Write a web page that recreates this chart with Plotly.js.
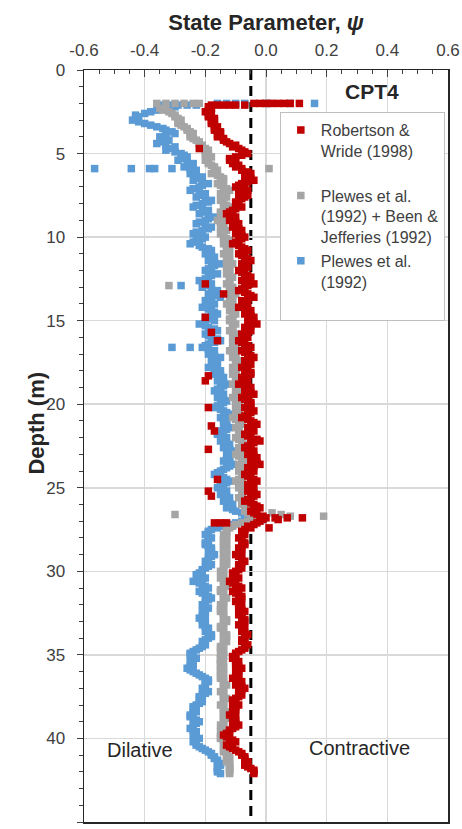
<!DOCTYPE html>
<html>
<head>
<meta charset="utf-8">
<script src="https://cdn.plot.ly/plotly-3.0.1.min.js"></script>
<style>html,body{margin:0;padding:0;background:#fff;}#chart{width:462px;height:829px;}</style>
</head>
<body>
<div id="chart"></div>
<script>
// Depth (m) of the readings, first set
const depthA = [
2.2,2.4,2.6,2.8,3.0,3.2,3.4,3.6,3.8,4.0,
4.2,4.4,4.6,4.8,5.0,5.2,5.4,5.6,5.8,6.0,
6.2,6.4,6.6,6.8,7.0,7.2,7.4,7.6,7.8,8.0,
8.2,8.4,8.6,8.8,9.0,9.2,9.4,9.6,9.8,10.0,
10.2,10.4,10.6,10.8,11.0,11.2,11.4,11.6,11.8,12.0,
12.2,12.4,12.6,12.8,13.0,13.2,13.4,13.6,13.8,14.0,
14.2,14.4,14.6,14.8,15.0,15.2,15.4,15.6,15.8,16.0,
16.2,16.4,16.6,16.8,17.0,17.2,17.4,17.6,17.8,18.0,
18.2,18.4,18.6,18.8,19.0,19.2,19.4,19.6,19.8,20.0,
20.2,20.4,20.6,20.8,21.0,21.2,21.4,21.6,21.8,22.0,
22.2,22.4,22.6,22.8,23.0,23.2,23.4,23.6,23.8,24.0,
24.2,24.4,24.6,24.8,25.0,25.2,25.4,25.6,25.8,26.0,
26.2,26.4,26.6,26.8,27.0,27.2,27.4,27.6,27.8,28.0,
28.2,28.4,28.6,28.8,29.0,29.2,29.4,29.6,29.8,30.0,
30.2,30.4,30.6,30.8,31.0,31.2,31.4,31.6,31.8,32.0,
32.2,32.4,32.6,32.8,33.0,33.2,33.4,33.6,33.8,34.0,
34.2,34.4,34.6,34.8,35.0,35.2,35.4,35.6,35.8,36.0,
36.2,36.4,36.6,36.8,37.0,37.2,37.4,37.6,37.8,38.0,
38.2,38.4,38.6,38.8,39.0,39.2,39.4,39.6,39.8,40.0,
40.2,40.4,40.6,40.8,41.0,41.2,41.4,41.6,41.8,42.0
];
// Depth (m) of the readings, second (in-between) set
const depthB = [
2.3,2.5,2.7,2.9,3.1,3.3,3.5,3.7,3.9,4.1,
4.3,4.5,4.7,4.9,5.1,5.3,5.5,5.7,5.9,6.1,
6.3,6.5,6.7,6.9,7.1,7.3,7.5,7.7,7.9,8.1,
8.3,8.5,8.7,8.9,9.1,9.3,9.5,9.7,9.9,10.1,
10.3,10.5,10.7,10.9,11.1,11.3,11.5,11.7,11.9,12.1,
12.3,12.5,12.7,12.9,13.1,13.3,13.5,13.7,13.9,14.1,
14.3,14.5,14.7,14.9,15.1,15.3,15.5,15.7,15.9,16.1,
16.3,16.5,16.7,16.9,17.1,17.3,17.5,17.7,17.9,18.1,
18.3,18.5,18.7,18.9,19.1,19.3,19.5,19.7,19.9,20.1,
20.3,20.5,20.7,20.9,21.1,21.3,21.5,21.7,21.9,22.1,
22.3,22.5,22.7,22.9,23.1,23.3,23.5,23.7,23.9,24.1,
24.3,24.5,24.7,24.9,25.1,25.3,25.5,25.7,25.9,26.1,
26.3,26.5,26.7,26.9,27.1,27.3,27.5,27.7,27.9,28.1,
28.3,28.5,28.7,28.9,29.1,29.3,29.5,29.7,29.9,30.1,
30.3,30.5,30.7,30.9,31.1,31.3,31.5,31.7,31.9,32.1,
32.3,32.5,32.7,32.9,33.1,33.3,33.5,33.7,33.9,34.1,
34.3,34.5,34.7,34.9,35.1,35.3,35.5,35.7,35.9,36.1,
36.3,36.5,36.7,36.9,37.1,37.3,37.5,37.7,37.9,38.1,
38.3,38.5,38.7,38.9,39.1,39.3,39.5,39.7,39.9,40.1,
40.3,40.5,40.7,40.9,41.1,41.3,41.5,41.7,41.9,42.1
];

// Robertson & Wride (1998)
const psiRobertsonA = [
-0.19,-0.19,-0.18,-0.19,-0.17,-0.18,-0.16,-0.17,-0.15,-0.16,
-0.14,-0.12,-0.11,-0.08,-0.06,-0.10,-0.12,-0.11,-0.10,-0.08,
-0.05,-0.07,-0.04,-0.08,-0.10,-0.06,-0.09,-0.07,-0.09,-0.10,
-0.08,-0.11,-0.13,-0.10,-0.12,-0.09,-0.11,-0.08,-0.10,-0.07,
-0.09,-0.11,-0.08,-0.06,-0.09,-0.07,-0.05,-0.08,-0.06,-0.09,
-0.07,-0.05,-0.08,-0.04,-0.07,-0.09,-0.06,-0.04,-0.08,-0.06,
-0.09,-0.05,-0.07,-0.04,-0.06,-0.03,-0.07,-0.05,-0.08,-0.06,
-0.09,-0.07,-0.05,-0.08,-0.06,-0.04,-0.07,-0.05,-0.08,-0.06,
-0.05,-0.08,-0.06,-0.09,-0.05,-0.07,-0.04,-0.08,-0.06,-0.05,
-0.07,-0.04,-0.06,-0.08,-0.05,-0.03,-0.06,-0.04,-0.07,-0.05,
-0.02,-0.05,-0.07,-0.04,-0.06,-0.03,-0.05,-0.02,-0.06,-0.04,
-0.07,-0.05,-0.03,-0.06,-0.04,-0.06,-0.03,-0.05,-0.07,-0.04,
-0.02,-0.05,-0.03,0.00,-0.02,-0.04,-0.05,-0.08,-0.07,-0.09,
-0.08,-0.07,-0.09,-0.08,-0.10,-0.08,-0.07,-0.09,-0.08,-0.10,
-0.11,-0.09,-0.12,-0.10,-0.08,-0.11,-0.09,-0.08,-0.10,-0.08,
-0.09,-0.07,-0.09,-0.08,-0.07,-0.09,-0.07,-0.08,-0.06,-0.07,
-0.08,-0.06,-0.07,-0.09,-0.10,-0.11,-0.09,-0.10,-0.08,-0.10,
-0.09,-0.11,-0.08,-0.10,-0.07,-0.09,-0.08,-0.10,-0.11,-0.09,
-0.11,-0.10,-0.12,-0.10,-0.11,-0.09,-0.11,-0.12,-0.14,-0.12,
-0.10,-0.13,-0.11,-0.09,-0.08,-0.07,-0.06,-0.07,-0.05,-0.04
];
const psiRobertsonB = [
-0.18,-0.20,-0.19,-0.17,-0.18,-0.17,-0.17,-0.15,-0.16,-0.14,
-0.13,-0.10,-0.09,-0.07,-0.08,-0.12,-0.10,-0.09,-0.08,-0.06,
-0.06,-0.05,-0.06,-0.09,-0.07,-0.08,-0.06,-0.08,-0.10,-0.09,
-0.10,-0.12,-0.11,-0.11,-0.10,-0.10,-0.09,-0.09,-0.08,-0.08,
-0.10,-0.09,-0.07,-0.07,-0.08,-0.06,-0.07,-0.07,-0.08,-0.08,
-0.06,-0.07,-0.06,-0.06,-0.08,-0.07,-0.05,-0.06,-0.07,-0.08,
-0.07,-0.06,-0.05,-0.05,-0.04,-0.05,-0.06,-0.07,-0.07,-0.08,
-0.08,-0.06,-0.07,-0.07,-0.05,-0.06,-0.06,-0.07,-0.07,-0.05,
-0.07,-0.07,-0.08,-0.07,-0.06,-0.05,-0.06,-0.07,-0.05,-0.06,
-0.05,-0.05,-0.07,-0.06,-0.04,-0.05,-0.05,-0.06,-0.06,-0.03,
-0.04,-0.06,-0.05,-0.05,-0.04,-0.04,-0.03,-0.04,-0.05,-0.06,
-0.06,-0.04,-0.05,-0.05,-0.05,-0.04,-0.04,-0.06,-0.05,-0.03,
-0.04,-0.04,-0.01,-0.01,-0.03,-0.06,-0.07,-0.08,-0.08,-0.08,
-0.07,-0.08,-0.08,-0.09,-0.09,-0.08,-0.08,-0.09,-0.09,-0.11,
-0.10,-0.11,-0.11,-0.09,-0.10,-0.10,-0.08,-0.09,-0.09,-0.09,
-0.08,-0.08,-0.08,-0.07,-0.08,-0.08,-0.08,-0.07,-0.07,-0.08,
-0.07,-0.07,-0.08,-0.10,-0.11,-0.10,-0.10,-0.09,-0.09,-0.09,
-0.10,-0.09,-0.09,-0.08,-0.08,-0.09,-0.09,-0.11,-0.10,-0.10,
-0.10,-0.11,-0.11,-0.10,-0.10,-0.10,-0.12,-0.13,-0.13,-0.11,
-0.12,-0.12,-0.10,-0.08,-0.07,-0.07,-0.06,-0.06,-0.04,-0.04
];
// Plewes et al. (1992) + Been & Jefferies (1992)
const psiPlewesBeenA = [
-0.33,-0.34,-0.31,-0.30,-0.28,-0.29,-0.27,-0.26,-0.24,-0.25,
-0.23,-0.22,-0.21,-0.19,-0.20,-0.18,-0.20,-0.19,-0.17,-0.16,
-0.18,-0.15,-0.14,-0.16,-0.14,-0.12,-0.15,-0.13,-0.15,-0.14,
-0.12,-0.14,-0.15,-0.13,-0.16,-0.14,-0.15,-0.13,-0.15,-0.14,
-0.12,-0.14,-0.13,-0.12,-0.14,-0.12,-0.13,-0.11,-0.13,-0.12,
-0.13,-0.11,-0.12,-0.13,-0.11,-0.12,-0.10,-0.12,-0.11,-0.13,
-0.11,-0.12,-0.10,-0.11,-0.12,-0.10,-0.11,-0.12,-0.10,-0.11,
-0.09,-0.11,-0.10,-0.12,-0.10,-0.11,-0.09,-0.10,-0.11,-0.10,
-0.11,-0.09,-0.10,-0.11,-0.10,-0.09,-0.10,-0.11,-0.09,-0.10,
-0.08,-0.10,-0.09,-0.11,-0.09,-0.08,-0.10,-0.09,-0.08,-0.10,
-0.08,-0.07,-0.09,-0.08,-0.10,-0.08,-0.07,-0.09,-0.08,-0.09,
-0.07,-0.08,-0.10,-0.08,-0.09,-0.07,-0.08,-0.09,-0.07,-0.08,
-0.06,-0.07,-0.05,-0.02,-0.06,-0.10,-0.12,-0.13,-0.14,-0.13,
-0.14,-0.13,-0.14,-0.13,-0.14,-0.13,-0.14,-0.13,-0.14,-0.15,
-0.14,-0.15,-0.14,-0.13,-0.14,-0.15,-0.14,-0.13,-0.14,-0.15,
-0.14,-0.15,-0.14,-0.14,-0.13,-0.14,-0.15,-0.14,-0.13,-0.14,
-0.13,-0.14,-0.15,-0.14,-0.14,-0.15,-0.14,-0.15,-0.14,-0.15,
-0.14,-0.15,-0.14,-0.13,-0.14,-0.15,-0.14,-0.13,-0.14,-0.15,
-0.14,-0.13,-0.14,-0.13,-0.14,-0.15,-0.14,-0.15,-0.14,-0.15,
-0.13,-0.14,-0.13,-0.14,-0.13,-0.12,-0.13,-0.12,-0.12,-0.12
];
const psiPlewesBeenB = [
-0.35,-0.32,-0.30,-0.29,-0.29,-0.28,-0.26,-0.25,-0.25,-0.24,
-0.22,-0.21,-0.20,-0.20,-0.19,-0.19,-0.19,-0.18,-0.17,-0.17,
-0.16,-0.14,-0.15,-0.15,-0.13,-0.14,-0.14,-0.14,-0.14,-0.13,
-0.13,-0.15,-0.14,-0.14,-0.15,-0.14,-0.14,-0.14,-0.14,-0.13,
-0.13,-0.13,-0.12,-0.13,-0.13,-0.12,-0.12,-0.12,-0.12,-0.12,
-0.12,-0.12,-0.12,-0.12,-0.12,-0.11,-0.11,-0.11,-0.12,-0.12,
-0.11,-0.11,-0.11,-0.12,-0.11,-0.11,-0.11,-0.11,-0.10,-0.10,
-0.10,-0.10,-0.11,-0.11,-0.10,-0.10,-0.10,-0.10,-0.10,-0.10,
-0.10,-0.10,-0.10,-0.10,-0.09,-0.10,-0.10,-0.10,-0.10,-0.09,
-0.09,-0.09,-0.10,-0.10,-0.08,-0.09,-0.09,-0.09,-0.09,-0.09,
-0.08,-0.08,-0.08,-0.09,-0.09,-0.08,-0.08,-0.08,-0.08,-0.08,
-0.08,-0.09,-0.09,-0.09,-0.08,-0.08,-0.08,-0.08,-0.08,-0.07,
-0.07,-0.06,-0.04,-0.04,-0.08,-0.11,-0.13,-0.13,-0.13,-0.14,
-0.13,-0.14,-0.13,-0.14,-0.13,-0.14,-0.13,-0.14,-0.14,-0.14,
-0.14,-0.14,-0.14,-0.13,-0.15,-0.14,-0.14,-0.14,-0.14,-0.14,
-0.15,-0.14,-0.14,-0.13,-0.14,-0.15,-0.14,-0.14,-0.13,-0.14,
-0.14,-0.15,-0.14,-0.15,-0.14,-0.15,-0.15,-0.14,-0.15,-0.14,
-0.15,-0.14,-0.14,-0.14,-0.14,-0.14,-0.14,-0.14,-0.14,-0.14,
-0.14,-0.14,-0.14,-0.14,-0.14,-0.14,-0.14,-0.14,-0.15,-0.14,
-0.14,-0.13,-0.14,-0.13,-0.12,-0.13,-0.12,-0.12,-0.12,-0.12
];
// Plewes et al. (1992)
const psiPlewesA = [
-0.30,-0.36,-0.40,-0.42,-0.44,-0.40,-0.36,-0.33,-0.30,-0.35,
-0.32,-0.36,-0.30,-0.33,-0.28,-0.26,-0.29,-0.24,-0.27,-0.23,
-0.25,-0.21,-0.24,-0.19,-0.22,-0.25,-0.20,-0.23,-0.18,-0.21,
-0.24,-0.19,-0.22,-0.17,-0.20,-0.23,-0.18,-0.21,-0.24,-0.20,
-0.23,-0.25,-0.21,-0.18,-0.20,-0.17,-0.19,-0.15,-0.18,-0.20,
-0.16,-0.19,-0.22,-0.18,-0.21,-0.16,-0.19,-0.15,-0.20,-0.17,
-0.21,-0.18,-0.16,-0.20,-0.17,-0.22,-0.19,-0.16,-0.20,-0.18,
-0.15,-0.19,-0.21,-0.17,-0.19,-0.15,-0.18,-0.16,-0.19,-0.15,
-0.17,-0.14,-0.16,-0.13,-0.15,-0.17,-0.14,-0.16,-0.13,-0.15,
-0.17,-0.14,-0.12,-0.15,-0.13,-0.14,-0.12,-0.15,-0.16,-0.13,
-0.15,-0.12,-0.14,-0.11,-0.13,-0.12,-0.14,-0.11,-0.13,-0.15,
-0.17,-0.14,-0.12,-0.15,-0.16,-0.13,-0.15,-0.12,-0.14,-0.11,
-0.13,-0.10,-0.07,-0.04,-0.08,-0.12,-0.16,-0.19,-0.20,-0.18,
-0.19,-0.20,-0.18,-0.19,-0.17,-0.19,-0.20,-0.18,-0.20,-0.21,
-0.23,-0.20,-0.24,-0.21,-0.19,-0.22,-0.20,-0.18,-0.20,-0.21,
-0.19,-0.21,-0.20,-0.22,-0.20,-0.21,-0.19,-0.20,-0.18,-0.19,
-0.21,-0.20,-0.22,-0.24,-0.25,-0.23,-0.25,-0.24,-0.26,-0.24,
-0.22,-0.20,-0.19,-0.20,-0.21,-0.19,-0.21,-0.22,-0.21,-0.23,
-0.24,-0.23,-0.25,-0.24,-0.22,-0.24,-0.25,-0.23,-0.24,-0.22,
-0.24,-0.23,-0.21,-0.19,-0.18,-0.17,-0.16,-0.15,-0.16,-0.16
];
const psiPlewesB = [
-0.33,-0.38,-0.43,-0.43,-0.42,-0.38,-0.34,-0.31,-0.33,-0.33,
-0.34,-0.33,-0.31,-0.30,-0.27,-0.28,-0.26,-0.25,-0.25,-0.24,
-0.23,-0.23,-0.21,-0.21,-0.24,-0.22,-0.21,-0.20,-0.19,-0.23,
-0.21,-0.20,-0.19,-0.19,-0.22,-0.20,-0.19,-0.23,-0.22,-0.21,
-0.24,-0.22,-0.19,-0.19,-0.18,-0.18,-0.17,-0.17,-0.19,-0.18,
-0.18,-0.20,-0.20,-0.19,-0.18,-0.17,-0.17,-0.18,-0.18,-0.19,
-0.19,-0.17,-0.18,-0.19,-0.20,-0.20,-0.17,-0.18,-0.19,-0.16,
-0.17,-0.20,-0.19,-0.18,-0.17,-0.17,-0.17,-0.17,-0.17,-0.16,
-0.15,-0.15,-0.14,-0.14,-0.16,-0.15,-0.15,-0.14,-0.14,-0.16,
-0.15,-0.13,-0.13,-0.14,-0.13,-0.13,-0.13,-0.16,-0.14,-0.14,
-0.13,-0.13,-0.12,-0.12,-0.12,-0.13,-0.12,-0.12,-0.14,-0.16,
-0.15,-0.13,-0.13,-0.15,-0.14,-0.14,-0.13,-0.13,-0.12,-0.12,
-0.11,-0.08,-0.05,-0.06,-0.10,-0.14,-0.18,-0.19,-0.19,-0.19,
-0.20,-0.19,-0.18,-0.18,-0.18,-0.19,-0.19,-0.19,-0.21,-0.22,
-0.22,-0.22,-0.22,-0.20,-0.20,-0.21,-0.19,-0.19,-0.20,-0.20,
-0.20,-0.20,-0.21,-0.21,-0.20,-0.20,-0.19,-0.19,-0.18,-0.20,
-0.20,-0.21,-0.23,-0.25,-0.24,-0.24,-0.24,-0.25,-0.25,-0.23,
-0.21,-0.19,-0.20,-0.20,-0.20,-0.20,-0.22,-0.21,-0.22,-0.24,
-0.23,-0.24,-0.25,-0.23,-0.23,-0.24,-0.24,-0.23,-0.23,-0.23,
-0.23,-0.22,-0.20,-0.18,-0.17,-0.16,-0.15,-0.16,-0.16,-0.15
];

// Scattered / near-surface readings
const robertsonExtraDepth = [2.0,2.0,2.0,2.0,2.0,2.0,2.0,2.0, 2.1,2.1,2.1,2.1,2.1,2.1, 4.7,12.8,13.4,14.8,15.7,16.2,18.3,18.6,20.2,21.3,21.6,22.7,24.5,25.2,25.5, 26.8,26.8,26.9,26.8, 27.1,27.1,27.1, 27.4];
const robertsonExtraPsi   = [-0.04,-0.02,0.00,0.02,0.04,0.06,0.08,0.11, -0.18,-0.16,-0.14,-0.12,-0.10,-0.07, -0.22,-0.20,-0.14,-0.20,-0.18,-0.16,-0.19,-0.20,-0.19,-0.18,-0.17,-0.19,-0.16,-0.19,-0.18, 0.03,0.07,0.04,0.12, -0.17,-0.15,-0.13, 0.01];
const plewesBeenExtraDepth = [2.0,2.0,2.0,2.0,2.0,2.0,2.0, 5.9, 12.9, 26.6,26.5,26.6,26.7,26.7];
const plewesBeenExtraPsi   = [-0.36,-0.33,-0.30,-0.27,-0.24,-0.22,0.01, 0.01, -0.32, -0.30,0.02,0.05,0.08,0.19];
const plewesExtraDepth = [2.0,2.0,2.0,2.0,2.0,2.0,2.0, 2.1,2.1,2.1,2.1,2.1, 5.9,5.9,5.9,5.9,5.9, 12.9, 16.6,16.6, 26.9,26.9,26.9];
const plewesExtraPsi   = [-0.16,-0.13,-0.10,-0.07,0.00,0.08,0.16, -0.35,-0.32,-0.29,-0.26,-0.23, -0.565,-0.444,-0.384,-0.367,-0.31, -0.28, -0.31,-0.25, -0.06,-0.03,-0.01];

const seriesNames = ['Robertson &<br>Wride (1998)<br>\u00a0', 'Plewes et al.<br>(1992) + Been &<br>Jefferies (1992)', 'Plewes et al.<br>(1992)<br>\u00a0'];
const seriesColors = ['#C00000', '#A5A5A5', '#5B9BD5'];
const xTickVals = [-0.6,-0.4,-0.2,0.0,0.2,0.4,0.6];
const xTickText = ['-0.6','-0.4','-0.2','0.0','0.2','0.4','0.6'];
const yTickVals = [0,5,10,15,20,25,30,35,40,45];
const boundaryPsi = -0.05;

function mk(name, color, xs, ys, rank) {
  return {type:'scatter', mode:'markers', name:name, x:xs, y:ys, legendrank:rank,
    marker:{symbol:'square', size:7.5, color:color, line:{width:0}}, hoverinfo:'x+y'};
}
const traces = [
  mk(seriesNames[2], seriesColors[2], psiPlewesA.concat(psiPlewesB, plewesExtraPsi), depthA.concat(depthB, plewesExtraDepth), 3),
  mk(seriesNames[1], seriesColors[1], psiPlewesBeenA.concat(psiPlewesBeenB, plewesBeenExtraPsi), depthA.concat(depthB, plewesBeenExtraDepth), 2),
  mk(seriesNames[0], seriesColors[0], psiRobertsonA.concat(psiRobertsonB, robertsonExtraPsi), depthA.concat(depthB, robertsonExtraDepth), 1)
];

const font = 'Arial, "Liberation Sans", sans-serif';
const layout = {
  width:462, height:829,
  margin:{l:84, r:14, t:70, b:7},
  paper_bgcolor:'#fff', plot_bgcolor:'#fff',
  font:{family:font, color:'#404040', size:16},
  showlegend:true,
  legend:{x:0.538, y:0.944, xanchor:'left', yanchor:'top', valign:'top', bgcolor:'#fff', bordercolor:'#bfbfbf', borderwidth:1,
    font:{family:font, size:16, color:'#404040'}, itemwidth:30, itemsizing:'trace', traceorder:'normal'},
  xaxis:{side:'top', range:[-0.6,0.6], tickmode:'array', tickvals:xTickVals, ticktext:xTickText,
    ticks:'inside', ticklen:7, tickwidth:1, tickcolor:'#404040',
    minor:{tickmode:'linear', tick0:-0.6, dtick:0.05, ticks:'inside', ticklen:4, tickcolor:'#404040', showgrid:false},
    showgrid:true, gridcolor:'#d9d9d9', gridwidth:1.5, zeroline:false,
    showline:true, linecolor:'#262626', linewidth:1.5, mirror:true,
    tickfont:{family:font, size:17, color:'#404040'}, ticklabelstandoff:6,
    title:{text:'<b>State Parameter, <i>ψ</i></b>', font:{family:font, size:22, color:'#262626'}, standoff:4}},
  yaxis:{range:[45,0], tickmode:'array', tickvals:yTickVals,
    ticks:'outside', ticklen:6, tickwidth:1, tickcolor:'#404040',
    minor:{tickmode:'linear', tick0:0, dtick:1, ticks:'outside', ticklen:4, tickcolor:'#404040', showgrid:false},
    showgrid:true, gridcolor:'#d9d9d9', gridwidth:1.5, zeroline:false,
    showline:true, linecolor:'#262626', linewidth:1.5, mirror:true,
    tickfont:{family:font, size:17, color:'#404040'}, ticklabelstandoff:8,
    title:{text:''}},
  shapes:[{type:'line', xref:'x', yref:'y', x0:boundaryPsi, x1:boundaryPsi, y0:0, y1:45, layer:'below',
    line:{color:'#000', width:3, dash:'10px,6px'}}],
  annotations:[
    {x:-0.170, y:0.5306, xref:'paper', yref:'paper', text:'<b>Depth (m)</b>', textangle:-90, showarrow:false, font:{family:font, size:22, color:'#262626'}},
    {x:0.35, y:1.3, xref:'x', yref:'y', text:'<b>CPT4</b>', showarrow:false, font:{family:font, size:21, color:'#262626'}},
    {x:-0.415, y:40.7, xref:'x', yref:'y', text:'Dilative', showarrow:false, font:{family:font, size:20, color:'#262626'}},
    {x:0.307, y:40.6, xref:'x', yref:'y', text:'Contractive', showarrow:false, font:{family:font, size:20, color:'#262626'}}
  ]
};
Plotly.newPlot('chart', traces, layout, {displayModeBar:false, staticPlot:true});
</script>
</body>
</html>
